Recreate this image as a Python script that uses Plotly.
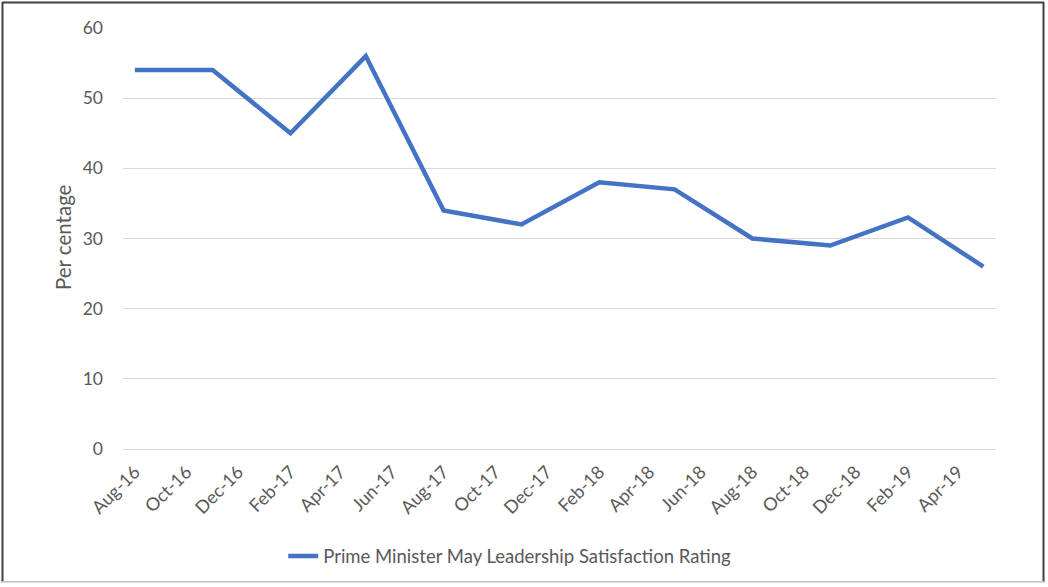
import plotly.graph_objects as go

# Quarterly satisfaction readings
months = ["2016-08-01", "2016-11-01", "2017-02-01", "2017-05-01",
          "2017-08-01", "2017-11-01", "2018-02-01", "2018-05-01",
          "2018-08-01", "2018-11-01", "2019-02-01", "2019-05-01"]
rating = [54, 54, 45, 56, 34, 32, 38, 37, 30, 29, 33, 26]
series_name = "Prime Minister May Leadership Satisfaction Rating"
y_title = "Per centage"

W, H = 1048, 587
L, R, T, B = 123, 52, 28, 136
pw, ph = W - L - R, H - T - B

def px_x(px):
    return (px - L) / pw

def px_y(py):
    return (H - B - py) / ph

font = "Lato, 'Open Sans', sans-serif"
grey = "#595959"

fig = go.Figure()
fig.add_trace(go.Scatter(
    x=months, y=rating, mode="lines", name=series_name,
    line=dict(color="#4472C4", width=4.5),
))

fig.update_layout(
    width=W, height=H,
    margin=dict(l=L, r=R, t=T, b=B),
    paper_bgcolor="white", plot_bgcolor="white",
    font=dict(family=font, color=grey),
    showlegend=True,
    legend=dict(orientation="h", x=0.443, xanchor="center",
                y=px_y(559), yanchor="middle",
                font=dict(size=18.5, color=grey, family=font),
                itemwidth=30),
    xaxis=dict(
        type="date",
        range=["2016-07-18", "2019-05-16"],
        tick0="2016-08-01", dtick="M2", tickformat="%b-%y",
        tickangle=-45, tickfont=dict(size=18, color=grey),
        showgrid=False, showline=False, zeroline=False,
        ticks="", ticklabelstandoff=8,
    ),
    yaxis=dict(
        range=[0, 60], dtick=10,
        tickfont=dict(size=17.5, color=grey),
        gridcolor="#d9d9d9", gridwidth=1,
        zeroline=True, zerolinecolor="#d9d9d9", zerolinewidth=1,
        showline=False, ticks="", ticklabelstandoff=19,
    ),
    annotations=[dict(
        text=y_title, textangle=-90, showarrow=False,
        xref="paper", yref="paper", x=px_x(63), y=px_y(238),
        xanchor="center", yanchor="middle",
        font=dict(size=20.5, color=grey, family=font),
    )],
    shapes=[
        dict(type="line", xref="paper", yref="paper",
             x0=px_x(2.5), x1=px_x(2.5), y0=px_y(2), y1=px_y(585),
             line=dict(color="#404040", width=2)),
        dict(type="line", xref="paper", yref="paper",
             x0=px_x(2), x1=px_x(1044), y0=px_y(2.5), y1=px_y(2.5),
             line=dict(color="#404040", width=2)),
        dict(type="line", xref="paper", yref="paper",
             x0=px_x(1043.5), x1=px_x(1043.5), y0=px_y(2), y1=px_y(585),
             line=dict(color="#404040", width=2)),
        dict(type="line", xref="paper", yref="paper",
             x0=px_x(2), x1=px_x(1044), y0=px_y(584.5), y1=px_y(584.5),
             line=dict(color="#c0c0c0", width=1.5)),
    ],
)

fig.write_html("out.html")
